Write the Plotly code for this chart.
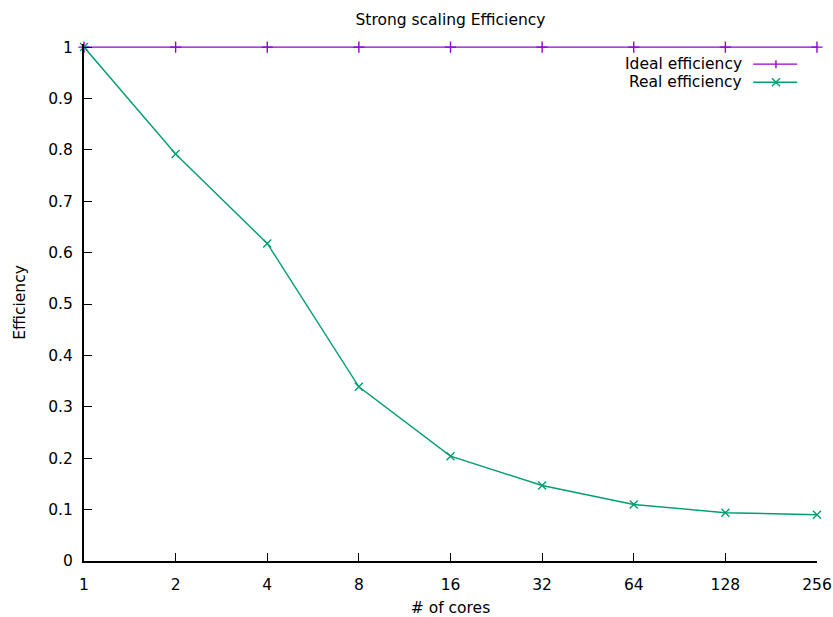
import plotly.graph_objects as go

cores = [1, 2, 4, 8, 16, 32, 64, 128, 256]
ideal = [1, 1, 1, 1, 1, 1, 1, 1, 1]
real = [1.0, 0.792, 0.618, 0.339, 0.204, 0.147, 0.110, 0.094, 0.090]
x_ticks = [1, 2, 4, 8, 16, 32, 64, 128, 256]
y_ticks = [0, 0.1, 0.2, 0.3, 0.4, 0.5, 0.6, 0.7, 0.8, 0.9, 1]
y_tick_text = ["0", "0.1", "0.2", "0.3", "0.4", "0.5", "0.6", "0.7", "0.8", "0.9", "1"]

PURPLE = "#9400d3"
GREEN = "#009e73"
FONT = "DejaVu Sans"
FS = 15.5
LW = 1.4
Y_TOP = 1.006  # a hair above 1 so the ideal line is not half-clipped

fig = go.Figure()
fig.add_trace(go.Scatter(
    x=cores, y=ideal, mode="lines+markers", name="Ideal efficiency",
    line=dict(color=PURPLE, width=LW),
    marker=dict(symbol="cross-thin", size=8, line=dict(color=PURPLE, width=LW)),
    cliponaxis=False, showlegend=False,
))
fig.add_trace(go.Scatter(
    x=cores, y=real, mode="lines+markers", name="Real efficiency",
    line=dict(color=GREEN, width=LW),
    marker=dict(symbol="x-thin", size=8, line=dict(color=GREEN, width=LW)),
    cliponaxis=False, showlegend=False,
))

# gnuplot-style key: text right-aligned, line sample to its right
legend_items = [("Ideal efficiency", PURPLE, "+"), ("Real efficiency", GREEN, "x")]
shapes = []
annotations = []
x_text_right = 0.900
x_line0, x_line1 = 0.913, 0.973
for i, (label, col, sym) in enumerate(legend_items):
    yy = 0.961 - i * 0.035
    annotations.append(dict(xref="paper", yref="paper", x=x_text_right, y=yy, text=label,
                            showarrow=False, xanchor="right", yanchor="middle",
                            font=dict(family=FONT, size=FS, color="#000")))
    shapes.append(dict(type="line", xref="paper", yref="paper", x0=x_line0, x1=x_line1,
                       y0=yy, y1=yy, line=dict(color=col, width=LW)))
    xm = 0.944
    dx, dy = 0.0055, 0.0078
    if sym == "+":
        shapes.append(dict(type="line", xref="paper", yref="paper", x0=xm, x1=xm,
                           y0=yy - dy, y1=yy + dy, line=dict(color=col, width=LW)))
    else:
        shapes.append(dict(type="line", xref="paper", yref="paper", x0=xm - dx, x1=xm + dx,
                           y0=yy - dy, y1=yy + dy, line=dict(color=col, width=LW)))
        shapes.append(dict(type="line", xref="paper", yref="paper", x0=xm - dx, x1=xm + dx,
                           y0=yy + dy, y1=yy - dy, line=dict(color=col, width=LW)))

fig.update_layout(
    width=833, height=617,
    margin=dict(l=84, r=16, t=44, b=56, autoexpand=False),
    paper_bgcolor="white", plot_bgcolor="white",
    font=dict(family=FONT, size=FS, color="#000"),
    title=dict(text="Strong scaling Efficiency", x=0.5, xanchor="center", xref="paper",
               y=0.969, yanchor="middle", yref="container",
               font=dict(family=FONT, size=FS, color="#000")),
    shapes=shapes, annotations=annotations,
    showlegend=False,
)
fig.update_xaxes(
    type="log", range=[0, 2.40824], tickvals=x_ticks, ticktext=[str(v) for v in x_ticks],
    showgrid=False, zeroline=False, showline=True, linecolor="#000", linewidth=2,
    ticks="inside", ticklen=8, tickcolor="#000", tickwidth=1, ticklabelstandoff=8,
    automargin=False,
    title=dict(text="# of cores", standoff=14, font=dict(family=FONT, size=FS)),
)
fig.update_yaxes(
    range=[0, Y_TOP], tickvals=y_ticks, ticktext=y_tick_text,
    showgrid=False, zeroline=False, showline=True, linecolor="#000", linewidth=2,
    ticks="inside", ticklen=8, tickcolor="#000", tickwidth=1, ticklabelstandoff=6,
    automargin=False,
    title=dict(text="Efficiency", standoff=19, font=dict(family=FONT, size=FS)),
)

fig.write_html("out.html", config={"displayModeBar": False})

# remove the browser's default 8px page margin so the figure fills the window
with open("out.html", "r", encoding="utf-8") as f:
    html = f.read()
html = html.replace("<head>", "<head><style>html,body{margin:0;padding:0;overflow:hidden;}</style>", 1)
with open("out.html", "w", encoding="utf-8") as f:
    f.write(html)
